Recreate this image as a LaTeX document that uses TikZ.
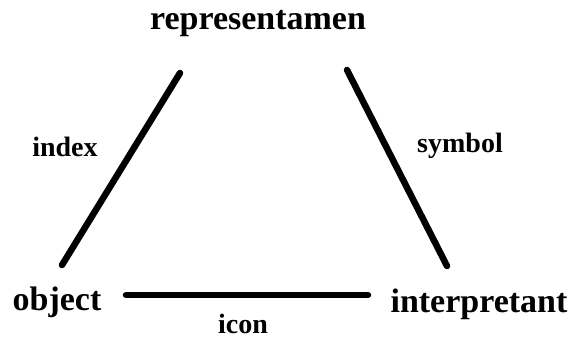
\documentclass[tikz,border=0pt]{standalone}
\usepackage{fontspec}
\setmainfont{Liberation Serif}
\begin{document}
\begin{tikzpicture}[x=1pt,y=-1pt,
  vertex/.style={font=\fontsize{34}{40}\selectfont\bfseries,anchor=base,inner sep=0pt},
  sign/.style={font=\fontsize{28}{32}\selectfont\bfseries,anchor=base,inner sep=0pt},
  leg/.style={line width=6.5pt,line cap=round}]
  \useasboundingbox (0,0) rectangle (570,339);
  % corners of the triangle
  \node[vertex] (rep) at (258,30) {representamen};
  \node[vertex] (obj) at (57,310) {object};
  \node[vertex] (int) at (479,312) {interpretant};
  % kinds of sign
  \node[sign] (idx) at (65,157) {index};
  \node[sign] (sym) at (460,153) {symbol};
  \node[sign] (ico) at (243,333) {icon};
  % ends of the legs
  \coordinate (repL) at (180,73);
  \coordinate (objT) at (62,265);
  \coordinate (repR) at (347,70);
  \coordinate (intT) at (447,266);
  \coordinate (objR) at (126,295);
  \coordinate (intL) at (368,295);
  \draw[leg] (repL) -- (objT);
  \draw[leg] (repR) -- (intT);
  \draw[leg] (objR) -- (intL);
\end{tikzpicture}
\end{document}
